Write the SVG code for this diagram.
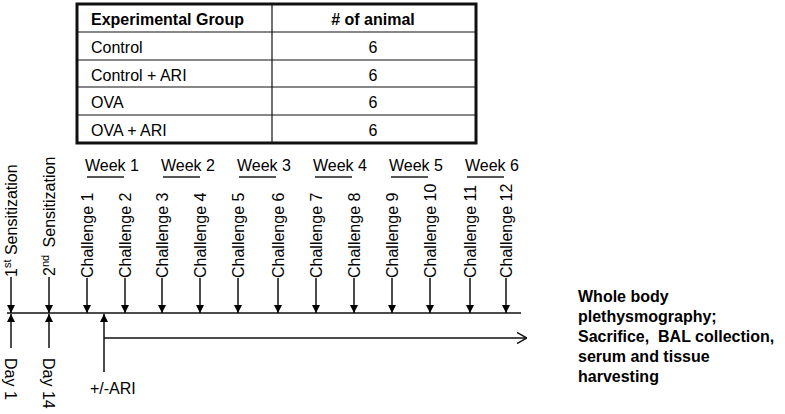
<svg xmlns="http://www.w3.org/2000/svg" width="785" height="414" viewBox="0 0 785 414">
<style>
text{font-family:"Liberation Sans",Arial,sans-serif;font-size:16px;fill:#000}
.b{font-weight:bold}
.c{text-anchor:middle}
.ln{stroke:#111;stroke-width:1.5;fill:none}
.ul{stroke:#555;stroke-width:2}
.tb{stroke:#111;stroke-width:1.2}
</style>
<defs>
<marker id="ah" viewBox="0 0 10 10" refX="10" refY="5" markerWidth="9" markerHeight="8" orient="auto" markerUnits="userSpaceOnUse">
<path d="M0,0 L10,5 L0,10 z" fill="#000"/>
</marker>
<marker id="ch" viewBox="0 0 10 12" refX="10" refY="6" markerWidth="10" markerHeight="12" orient="auto" markerUnits="userSpaceOnUse">
<path d="M0,0.5 L10,6 L0,11.5" fill="none" stroke="#111" stroke-width="1.5"/>
</marker>
</defs>

<g id="table">
<rect x="77" y="4" width="399" height="139" fill="#fff" stroke="#111" stroke-width="3"/>
<line class="tb" x1="77" y1="32" x2="476" y2="32"/>
<line class="tb" x1="77" y1="60" x2="476" y2="60"/>
<line class="tb" x1="77" y1="87" x2="476" y2="87"/>
<line class="tb" x1="77" y1="115" x2="476" y2="115"/>
<line class="tb" x1="272" y1="4" x2="272" y2="143" stroke-width="1.5"/>
<text class="b" x="91" y="25">Experimental Group</text>
<text class="b c" x="373" y="25"># of animal</text>
<text x="91" y="53">Control</text>
<text class="c" x="373" y="53">6</text>
<text x="91" y="81">Control + ARI</text>
<text class="c" x="373" y="81">6</text>
<text x="91" y="108">OVA</text>
<text class="c" x="373" y="108">6</text>
<text x="91" y="136">OVA + ARI</text>
<text class="c" x="373" y="136">6</text>
</g>

<g id="weeks">
<text x="85" y="171">Week 1</text><line class="ul" x1="87" y1="177" x2="124" y2="177"/>
<text x="161" y="171">Week 2</text><line class="ul" x1="163" y1="177" x2="200" y2="177"/>
<text x="237" y="171">Week 3</text><line class="ul" x1="239" y1="177" x2="276" y2="177"/>
<text x="313" y="171">Week 4</text><line class="ul" x1="315" y1="177" x2="352" y2="177"/>
<text x="389" y="171">Week 5</text><line class="ul" x1="391" y1="177" x2="428" y2="177"/>
<text x="465" y="171">Week 6</text><line class="ul" x1="467" y1="177" x2="504" y2="177"/>
</g>

<g id="sensitizations">
<text transform="translate(17,277) rotate(-90)">1<tspan font-size="11" dy="-6">st</tspan><tspan dy="6"> Sensitization</tspan></text>
<text transform="translate(55,276) rotate(-90)">2<tspan font-size="11" dy="-6">nd</tspan><tspan dy="6" dx="3"> Sensitization</tspan></text>
</g>

<g id="challenges">
<text transform="translate(93,278) rotate(-90)">Challenge 1</text>
<text transform="translate(131,278) rotate(-90)">Challenge 2</text>
<text transform="translate(168,278) rotate(-90)">Challenge 3</text>
<text transform="translate(206,278) rotate(-90)">Challenge 4</text>
<text transform="translate(244,278) rotate(-90)">Challenge 5</text>
<text transform="translate(284,278) rotate(-90)">Challenge 6</text>
<text transform="translate(322,278) rotate(-90)">Challenge 7</text>
<text transform="translate(360,278) rotate(-90)">Challenge 8</text>
<text transform="translate(398,278) rotate(-90)">Challenge 9</text>
<text transform="translate(436,278) rotate(-90)">Challenge 10</text>
<text transform="translate(476,278) rotate(-90)">Challenge 11</text>
<text transform="translate(512,278) rotate(-90)">Challenge 12</text>
</g>

<g id="days">
<text transform="translate(5,358) rotate(90)">Day 1</text>
<text transform="translate(43,358) rotate(90)">Day 14</text>
</g>

<g id="ari">
<text x="90" y="394">+/-ARI</text>
</g>

<g id="outcome">
<text class="b" x="578" y="302">Whole body</text>
<text class="b" x="578" y="322">plethysmography;</text>
<text class="b" x="578" y="342">Sacrifice,&#160; BAL collection,</text>
<text class="b" x="578" y="362">serum and tissue</text>
<text class="b" x="578" y="382">harvesting</text>
</g>

<g id="connectors">
<line class="ln" x1="7" y1="313" x2="521" y2="313"/>
<line class="ln" x1="11" y1="277" x2="11" y2="313" marker-end="url(#ah)"/>
<line class="ln" x1="49" y1="277" x2="49" y2="313" marker-end="url(#ah)"/>
<line class="ln" x1="87" y1="278" x2="87" y2="313" marker-end="url(#ah)"/>
<line class="ln" x1="125" y1="278" x2="125" y2="313" marker-end="url(#ah)"/>
<line class="ln" x1="162" y1="278" x2="162" y2="313" marker-end="url(#ah)"/>
<line class="ln" x1="200" y1="278" x2="200" y2="313" marker-end="url(#ah)"/>
<line class="ln" x1="238" y1="278" x2="238" y2="313" marker-end="url(#ah)"/>
<line class="ln" x1="278" y1="278" x2="278" y2="313" marker-end="url(#ah)"/>
<line class="ln" x1="316" y1="278" x2="316" y2="313" marker-end="url(#ah)"/>
<line class="ln" x1="354" y1="278" x2="354" y2="313" marker-end="url(#ah)"/>
<line class="ln" x1="392" y1="278" x2="392" y2="313" marker-end="url(#ah)"/>
<line class="ln" x1="430" y1="278" x2="430" y2="313" marker-end="url(#ah)"/>
<line class="ln" x1="470" y1="278" x2="470" y2="313" marker-end="url(#ah)"/>
<line class="ln" x1="506" y1="278" x2="506" y2="313" marker-end="url(#ah)"/>
<line class="ln" x1="11" y1="348" x2="11" y2="314" marker-end="url(#ah)"/>
<line class="ln" x1="49" y1="348" x2="49" y2="314" marker-end="url(#ah)"/>
<line class="ln" x1="104" y1="372" x2="104" y2="314" marker-end="url(#ah)"/>
<line class="ln" x1="104" y1="338" x2="527" y2="338" marker-end="url(#ch)"/>
</g>
</svg>
